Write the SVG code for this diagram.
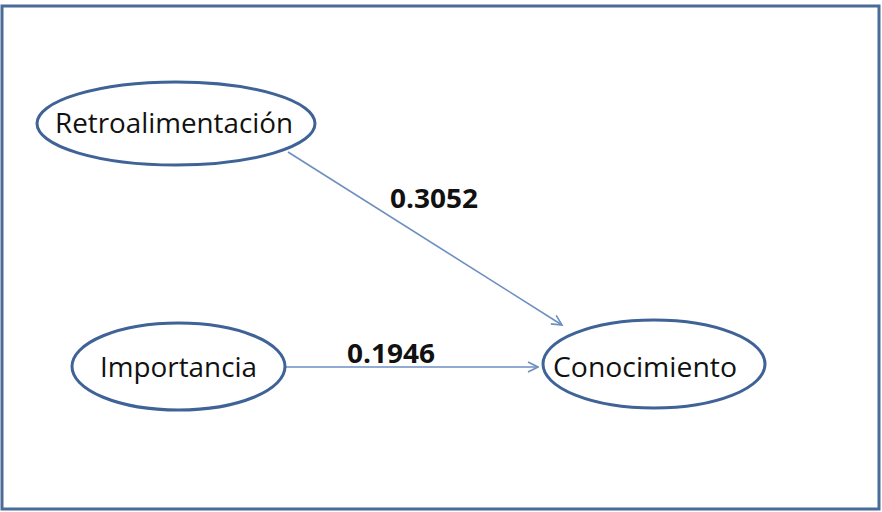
<svg xmlns="http://www.w3.org/2000/svg" width="882" height="512" viewBox="0 0 882 512">
<style>
.node{fill:#ffffff;stroke:#3f6396;stroke-width:3}
.lbl{font-family:"Open Sans","Liberation Sans",sans-serif;font-size:27px;fill:#111;text-anchor:middle}
.num{font-family:"Open Sans","Liberation Sans",sans-serif;font-size:27px;font-weight:bold;fill:#111}
.edge{stroke:#6d8fc0;stroke-width:1.6;fill:none}
</style>
<defs>
<marker id="arr" viewBox="0 0 12 12" refX="11" refY="6" markerWidth="12" markerHeight="12" markerUnits="userSpaceOnUse" orient="auto">
<path d="M1,1 L11,6 L1,11" fill="none" stroke="#6d8fc0" stroke-width="1.6"/>
</marker>
</defs>
<rect x="0" y="0" width="882" height="512" fill="#ffffff"/>
<rect x="2" y="6" width="877" height="503" fill="#ffffff" stroke="#4a6a97" stroke-width="3"/>
<g id="connectors">
<line class="edge" x1="288" y1="152" x2="562" y2="325" marker-end="url(#arr)"/>
<line class="edge" x1="286" y1="367" x2="538" y2="367" marker-end="url(#arr)"/>
<text class="num" x="390" y="208" textLength="88" lengthAdjust="spacingAndGlyphs">0.3052</text>
<text class="num" x="347" y="363" textLength="88" lengthAdjust="spacingAndGlyphs">0.1946</text>
</g>
<g id="retroalimentacion">
<ellipse class="node" cx="176" cy="123.5" rx="139" ry="41.5"/>
<text class="lbl" x="174" y="133" textLength="238" lengthAdjust="spacingAndGlyphs">Retroalimentación</text>
</g>
<g id="importancia">
<ellipse class="node" cx="178.5" cy="366.5" rx="106.5" ry="43.5"/>
<text class="lbl" x="178.5" y="377" textLength="157" lengthAdjust="spacingAndGlyphs">Importancia</text>
</g>
<g id="conocimiento">
<ellipse class="node" cx="654" cy="364" rx="111" ry="44"/>
<text class="lbl" x="645" y="377" textLength="184" lengthAdjust="spacingAndGlyphs">Conocimiento</text>
</g>
</svg>
